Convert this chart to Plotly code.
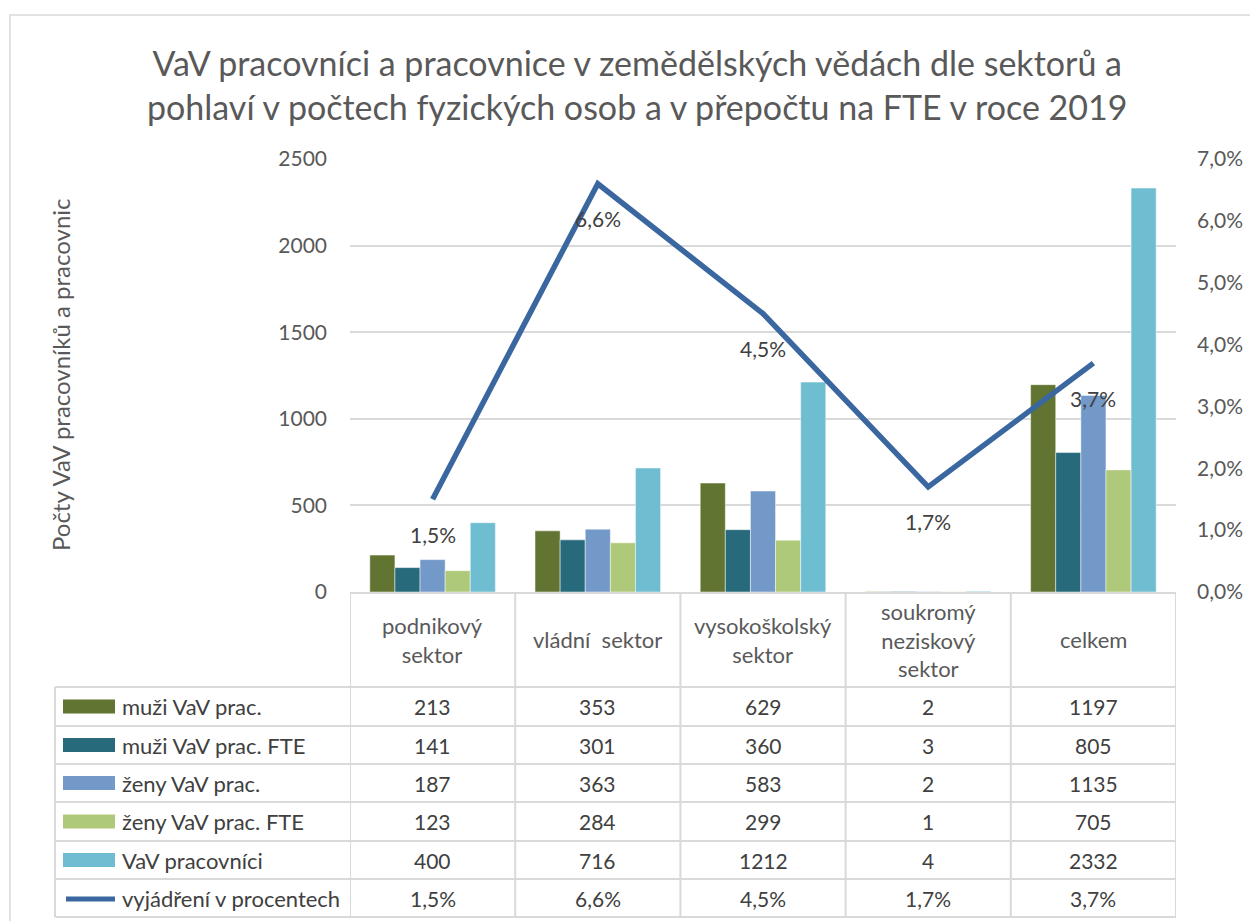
import plotly.graph_objects as go

W, H = 1250, 921

categories = ["podnikový<br>sektor", "vládní  sektor", "vysokoškolský<br>sektor",
              "soukromý<br>neziskový<br>sektor", "celkem"]
series_names = ["muži VaV prac.", "muži VaV prac. FTE", "ženy VaV prac.",
                "ženy VaV prac. FTE", "VaV pracovníci"]
muzi = [213, 353, 629, 2, 1197]
muzi_fte = [141, 301, 360, 3, 805]
zeny = [187, 363, 583, 2, 1135]
zeny_fte = [123, 284, 299, 1, 705]
celkem = [400, 716, 1212, 4, 2332]
procenta = [1.5, 6.6, 4.5, 1.7, 3.7]
line_name = "vyjádření v procentech"

bar_colors = ["#617431", "#276A7C", "#7399C9", "#AFC97A", "#6FBDD1"]
line_color = "#3B67A0"
FONT = "Lato"
TXT = "#404040"
AX = "#595959"
GRID = "#D9D9D9"

def px(x):
    return x / W

def py(y):
    return 1 - y / H

def fmt_pct(v):
    return f"{v:.1f}%".replace(".", ",")

xs = list(range(len(categories)))
series = [muzi, muzi_fte, zeny, zeny_fte, celkem]

fig = go.Figure()
for name, vals, col in zip(series_names, series, bar_colors):
    fig.add_trace(go.Bar(x=xs, y=vals, name=name, marker_color=col,
                         marker_line=dict(color="rgba(255,255,255,0.6)", width=0.8),
                         showlegend=False))
fig.add_trace(go.Scatter(x=xs, y=procenta, yaxis="y2", mode="lines", name=line_name,
                         line=dict(color=line_color, width=5.5), showlegend=False))

annotations = []
shapes = []

def ann(**kw):
    kw.setdefault("showarrow", False)
    kw.setdefault("xanchor", "center")
    kw.setdefault("yanchor", "middle")
    annotations.append(kw)

# line data labels
for i, v in enumerate(procenta):
    ann(x=i, y=v, xref="x", yref="y2", text=fmt_pct(v), yshift=-35,
        font=dict(family=FONT, size=21, color=TXT))

# title
ann(x=px(637), y=py(84), xref="paper", yref="paper",
    text="VaV pracovníci a pracovnice v zemědělských vědách dle sektorů a<br>"
         "pohlaví v počtech fyzických osob a v přepočtu na FTE v roce 2019",
    font=dict(family=FONT, size=34, color=AX))
# y-axis title
ann(x=px(61), y=py(375), xref="paper", yref="paper",
    text="Počty VaV pracovníků a pracovnic", textangle=-90,
    font=dict(family=FONT, size=24, color=AX))

# ---- data table ----
top_axis = 592
header_bottom = 687
row_edges = [687, 726, 764, 802, 841, 879, 917]
table_left = 55
line_kw = dict(color=GRID, width=2)

# header labels
for i, c in enumerate(categories):
    ann(x=i, y=py((top_axis + header_bottom) / 2), xref="x", yref="paper", text=c,
        font=dict(family=FONT, size=22, color=AX))

# vertical lines
for i in range(len(categories) + 1):
    shapes.append(dict(type="line", xref="x", yref="paper", x0=i - 0.5, x1=i - 0.5,
                       y0=py(top_axis), y1=py(row_edges[-1]), line=line_kw))
shapes.append(dict(type="line", xref="paper", yref="paper", x0=px(table_left), x1=px(table_left),
                   y0=py(row_edges[0]), y1=py(row_edges[-1]), line=line_kw))
# horizontal lines
for ye in row_edges:
    shapes.append(dict(type="line", xref="paper", yref="paper", x0=px(table_left), x1=px(1176),
                       y0=py(ye), y1=py(ye), line=line_kw))

rows = series + [procenta]
row_labels = series_names + [line_name]
for r, (lab, vals) in enumerate(zip(row_labels, rows)):
    yc = (row_edges[r] + row_edges[r + 1]) / 2
    ann(x=px(120), y=py(yc), xref="paper", yref="paper", text=lab, xanchor="left",
        font=dict(family=FONT, size=22, color=TXT))
    if r < len(series):
        shapes.append(dict(type="rect", xref="paper", yref="paper", x0=px(63), x1=px(115),
                           y0=py(yc - 7), y1=py(yc + 7), fillcolor=bar_colors[r], line_width=0))
        texts = [str(v) for v in vals]
    else:
        shapes.append(dict(type="line", xref="paper", yref="paper", x0=px(66), x1=px(115),
                           y0=py(yc + 1), y1=py(yc + 1), line=dict(color=line_color, width=5)))
        texts = [fmt_pct(v) for v in vals]
    for i, t in enumerate(texts):
        ann(x=i, y=py(yc), xref="x", yref="paper", text=t,
            font=dict(family=FONT, size=21, color=TXT))

# outer chart border
shapes.append(dict(type="rect", xref="paper", yref="paper", x0=px(10), x1=px(1260),
                   y0=py(930), y1=py(15), line=dict(color=GRID, width=1.5), layer="below"))

fig.update_layout(
    template="none",
    width=W, height=H,
    margin=dict(l=0, r=0, t=0, b=0, pad=0, autoexpand=False),
    paper_bgcolor="white", plot_bgcolor="white",
    barmode="group", bargap=0.24, bargroupgap=0,
    separators=", ",
    font=dict(family=FONT, color=AX),
    xaxis=dict(domain=[px(350), px(1176)], range=[-0.5, 4.5], showticklabels=False,
               showgrid=False, zeroline=False, showline=True, linecolor=GRID, linewidth=2,
               ticks="", automargin=False),
    yaxis=dict(domain=[py(592), py(159)], range=[0, 2500], dtick=500, tickformat="d",
               showgrid=True, gridcolor=GRID, gridwidth=2, zeroline=False, showline=False,
               ticks="", ticklabelstandoff=22, automargin=False,
               tickfont=dict(family=FONT, size=21, color=AX)),
    yaxis2=dict(overlaying="y", side="right", anchor="x", range=[0, 7], dtick=1,
                tickformat=".1f", ticksuffix="%", showgrid=False, zeroline=False,
                showline=False, ticks="", ticklabelstandoff=20, automargin=False,
                tickfont=dict(family=FONT, size=21, color=AX)),
    annotations=annotations,
    shapes=shapes,
)

fig.write_html("out.html", config={"displayModeBar": False},
               post_script="document.body.style.margin='0';document.body.style.overflow='hidden';")
